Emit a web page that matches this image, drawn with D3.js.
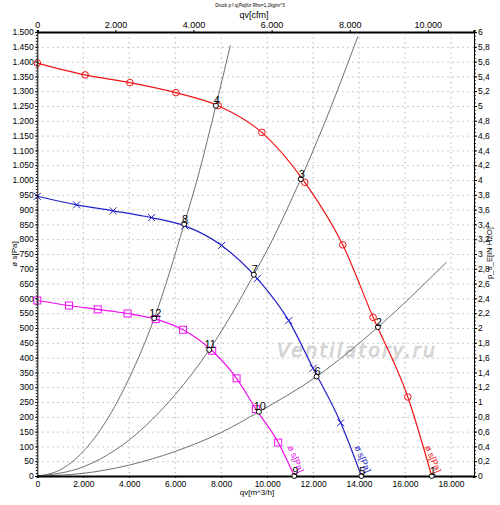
<!DOCTYPE html>
<html>
<head>
<meta charset="utf-8">
<script src="https://cdn.jsdelivr.net/npm/d3@7"></script>
<style>
  body { margin: 0; background: #fff; }
  svg { font-family: "Liberation Sans", Arial, sans-serif; }
</style>
</head>
<body>
<svg id="chart" width="500" height="505"></svg>
<script>
// fan curves: flow in m^3/h, static pressure in Pa
const qHigh = [0, 2080, 4030, 6030, 7870, 9770, 11640, 13290, 14610, 16120, 17160];
const pHigh = [1395, 1355, 1329, 1295, 1251, 1161, 992, 781, 536, 267, 0];
const qMid = [0, 1710, 3300, 4970, 6420, 8020, 9570, 10940, 12000, 13200, 14100];
const pMid = [945, 916, 896, 873, 845, 779, 667, 525, 364, 180, 0];
const qLow = [0, 1380, 2630, 3930, 5150, 6340, 7610, 8670, 9510, 10480, 11180];
const pLow = [593, 576, 563, 549, 530, 494, 423, 330, 226, 113, 0];

// system curves (gray)
const qSysA = [0, 1000, 2000, 3000, 4000, 5090, 6390, 7000, 7770, 8400];
const pSysA = [0, 21, 83, 186, 331, 533, 851, 1014, 1251, 1455];
const qSysB = [0, 2000, 4000, 6000, 7480, 8000, 9420, 10000, 11460, 12000, 13950];
const pSysB = [0, 31, 122, 275, 426, 488, 680, 763, 1003, 1099, 1485];
const qSysC = [0, 2000, 4000, 6000, 8000, 9640, 12150, 14820, 17800];
const pSysC = [0, 9, 37, 83, 147, 217, 336, 503, 722];

// operating points
const opLabels = ["1", "2", "3", "4", "5", "6", "7", "8", "9", "10", "11", "12"];
const opQ = [17160, 14820, 11465, 7770, 14100, 12150, 9420, 6390, 11180, 9640, 7480, 5090];
const opP = [0, 503, 1003, 1251, 0, 336, 680, 851, 0, 217, 426, 533];

// axes
const bottomTicks = d3.range(0, 18001, 2000);
const topTicks = d3.range(0, 10001, 2000);
const leftTicks = d3.range(0, 1501, 50);
const rightTicks = d3.range(0, 31).map(i => i / 5);
const cfmPerM3h = 1 / 1.699;

const svg = d3.select("#chart");
const plotLeft = 37.3, plotRight = 474, plotTop = 32, plotBottom = 476;

const x = d3.scaleLinear().domain([0, 19000]).range([plotLeft, plotRight]);
const y = d3.scaleLinear().domain([0, 1500]).range([plotBottom, plotTop]);
const xTop = d3.scaleLinear().domain([0, 19000 * cfmPerM3h]).range([plotLeft, plotRight]);
const yRight = d3.scaleLinear().domain([0, 6]).range([plotBottom, plotTop]);

const loc = d3.formatLocale({ decimal: ",", thousands: ".", grouping: [3], currency: ["", ""] });
const fmtInt = loc.format(",d");
const fmtDec = loc.format(".1~f");

// grid
const grid = svg.append("g").attr("stroke", "#b8b8b8").attr("stroke-dasharray", "1.5,3.5").attr("stroke-width", 1);
grid.selectAll(".h").data(leftTicks.filter(d => d > 0 && d < 1500)).enter().append("line")
  .attr("x1", plotLeft).attr("x2", plotRight).attr("y1", d => y(d) + 0.5).attr("y2", d => y(d) + 0.5);
grid.selectAll(".v").data(bottomTicks.filter(d => d > 0)).enter().append("line")
  .attr("y1", plotTop).attr("y2", plotBottom).attr("x1", d => x(d)).attr("x2", d => x(d));

// watermark
svg.append("text")
  .attr("x", 277).attr("y", 357)
  .attr("font-family", "DejaVu Sans").attr("font-style", "italic")
  .attr("font-size", 19).attr("textLength", 158)
  .attr("fill", "#e2e2e2").attr("stroke", "#c4c4c4").attr("stroke-width", 0.6)
  .text("Ventilatory.ru");

const line = d3.line().x(d => x(d[0])).y(d => y(d[1])).curve(d3.curveMonotoneX);
const zip = (a, b) => a.map((v, i) => [v, b[i]]);

// system curves
[[qSysA, pSysA], [qSysB, pSysB], [qSysC, pSysC]].forEach(([q, p]) => {
  svg.append("path").attr("d", line(zip(q, p)))
    .attr("fill", "none").attr("stroke", "#707070").attr("stroke-width", 1);
});

// fan curves
const fans = [
  { q: qHigh, p: pHigh, color: "#f01414", mark: "circle" },
  { q: qMid, p: pMid, color: "#2020c8", mark: "cross" },
  { q: qLow, p: pLow, color: "#f010f0", mark: "square" }
];

fans.forEach(f => {
  const pts = zip(f.q, f.p);
  svg.append("path").attr("d", line(pts))
    .attr("fill", "none").attr("stroke", f.color).attr("stroke-width", 1.2);

  const m = svg.append("g").attr("stroke", f.color).attr("fill", "none").attr("stroke-width", 1);
  pts.filter(d => d[1] > 0).forEach(d => {
    const cx = x(d[0]), cy = y(d[1]);
    if (f.mark === "circle") {
      m.append("circle").attr("cx", cx).attr("cy", cy).attr("r", 3.3);
    } else if (f.mark === "cross") {
      m.append("path").attr("d", `M${cx - 3.5},${cy - 3.5}L${cx + 3.5},${cy + 3.5}M${cx - 3.5},${cy + 3.5}L${cx + 3.5},${cy - 3.5}`);
    } else {
      m.append("rect").attr("x", cx - 3.5).attr("y", cy - 3.5).attr("width", 7).attr("height", 7);
    }
  });

  // rotated curve label near the curve's end
  const qEnd = f.q[f.q.length - 1];
  const lx = x(qEnd) - 7, ly = y(0) - 29;
  svg.append("text")
    .attr("transform", `translate(${lx},${ly}) rotate(67)`)
    .attr("font-size", 9).attr("fill", f.color)
    .text("ø s[Pa]");
});

// axes
const axisLeft = svg.append("g").attr("transform", `translate(${plotLeft},0)`)
  .call(d3.axisLeft(y).tickValues(leftTicks).tickSize(2).tickPadding(1.5).tickFormat(fmtInt));
svg.append("g").attr("transform", `translate(${plotLeft},0)`)
  .call(d3.axisLeft(y).tickValues(d3.range(0, 1501, 10)).tickSize(1.5).tickFormat(""))
  .call(g => g.select(".domain").remove());

const axisRight = svg.append("g").attr("transform", `translate(${plotRight},0)`)
  .call(d3.axisRight(yRight).tickValues(rightTicks).tickSize(3).tickPadding(1).tickFormat(fmtDec));
svg.append("g").attr("transform", `translate(${plotRight},0)`)
  .call(d3.axisRight(yRight).tickValues(d3.range(0, 121).map(i => i / 20)).tickSize(1.8).tickFormat(""))
  .call(g => g.select(".domain").remove());

const axisBottom = svg.append("g").attr("transform", `translate(0,${plotBottom})`)
  .call(d3.axisBottom(x).tickValues(bottomTicks).tickSize(2).tickPadding(3).tickFormat(fmtInt));
axisBottom.select(".domain").attr("stroke-width", 2.2);

const axisTop = svg.append("g").attr("transform", `translate(0,${plotTop})`)
  .call(d3.axisTop(xTop).tickValues(topTicks).tickSize(2).tickPadding(2.5).tickFormat(fmtInt));
axisTop.select(".domain").attr("stroke-width", 2.2);

[axisLeft, axisRight, axisBottom, axisTop].forEach(g => {
  g.selectAll("text").attr("font-size", 8.5).attr("font-family", "Liberation Sans, Arial, sans-serif").attr("fill", "#000");
  g.selectAll("line, path").attr("stroke", "#000");
});
axisTop.selectAll("text").attr("font-size", 9);

// operating points
const ops = svg.append("g");
opQ.forEach((q, i) => {
  const cx = x(q), cy = y(opP[i]);
  ops.append("circle").attr("cx", cx).attr("cy", cy).attr("r", 2.5)
    .attr("fill", "#fff").attr("stroke", "#000").attr("stroke-width", 1);
  ops.append("text").attr("x", cx + 1).attr("y", cy - 1.5)
    .attr("text-anchor", "middle").attr("font-size", 11).attr("fill", "#000")
    .text(opLabels[i]);
});

// titles
svg.append("text").attr("x", 250).attr("y", 7).attr("text-anchor", "middle")
  .attr("font-size", 4.6).text("Druck p f q(Pa)für Rho=1,2kg/m^3");
svg.append("text").attr("x", 254).attr("y", 18).attr("text-anchor", "middle")
  .attr("font-size", 9).text("qv[cfm]");
svg.append("text").attr("x", 257).attr("y", 495).attr("text-anchor", "middle")
  .attr("font-size", 8).text("qv[m^3/h]");
svg.append("text").attr("transform", "translate(17,254) rotate(-90)").attr("text-anchor", "middle")
  .attr("font-size", 8).text("ø s[Pa]");
svg.append("text").attr("transform", "translate(492,253) rotate(-90)").attr("text-anchor", "middle")
  .attr("font-size", 7.8).text("p_s_E[iN H2O]");
</script>
</body>
</html>
